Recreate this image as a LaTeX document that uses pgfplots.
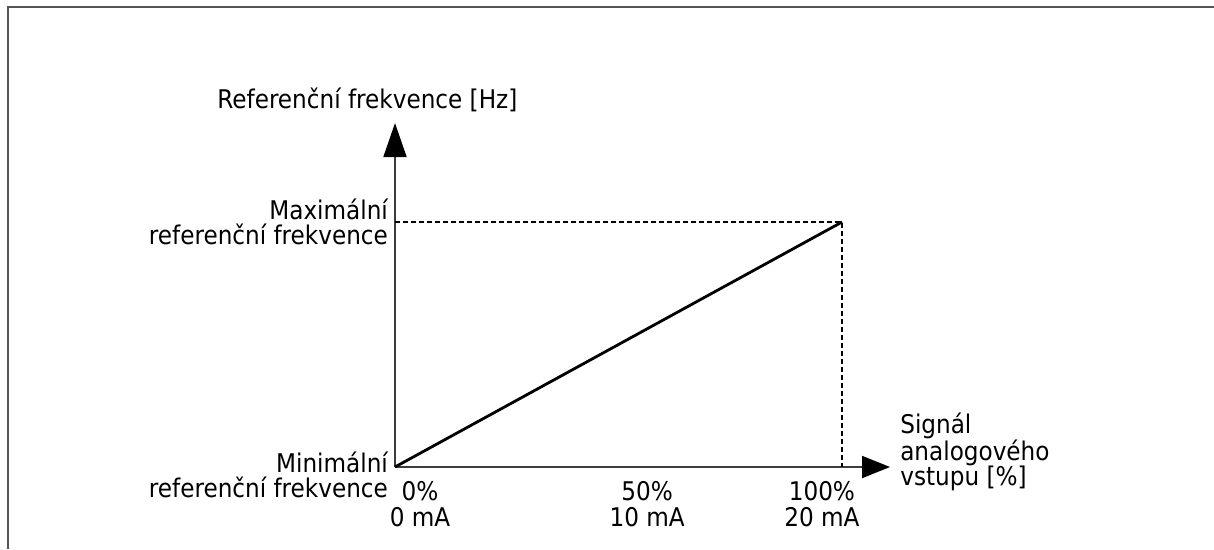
\documentclass[border=0pt]{standalone}
\usepackage{fontspec}
\setmainfont{DejaVu Sans Condensed}
\usepackage{pgfplots}
\pgfplotsset{compat=1.18}
\usetikzlibrary{arrows.meta}

\definecolor{framegray}{RGB}{85,85,85}
\definecolor{axisgray}{RGB}{60,60,60}

\begin{document}
\fontsize{18.3pt}{18pt}\selectfont
\begin{tikzpicture}
  % page = 1214 x 549 px, 1 px = 0.025 cm
  \useasboundingbox (0,0) rectangle (30.35,13.725);
  % partial frame (top and left edges)
  \draw[framegray, line width=1.4pt] (0.2,0) -- (0.2,13.55) -- (30.35,13.55);

  \begin{axis}[
    at={(9.875cm,2.05cm)}, anchor=origin,
    x=0.11175cm, y=6.125cm,
    xmin=0, xmax=110.74,
    ymin=0, ymax=1.404,
    axis lines=left,
    clip=false,
    x axis line style={axisgray, line width=1.3pt,
      -{Triangle[length=0.7cm, width=0.55cm, color=black]}},
    y axis line style={axisgray, line width=1.3pt,
      -{Triangle[length=0.85cm, width=0.575cm, color=black]}},
    major tick length=0pt,
    xtick={5.6,56.4,95.5},
    xticklabels={{0\%\\0 mA},{50\%\\10 mA},{100\%\\20 mA}},
    xticklabel style={align=center, anchor=north, inner sep=0pt, yshift=-0.36cm},
    ytick={1},
    yticklabels={{Maximální\\referenční frekvence}},
    yticklabel style={align=right, anchor=east, inner sep=0pt, xshift=-0.17cm},
    extra y ticks={0},
    extra y tick labels={{Minimální\\referenční frekvence}},
    extra y tick style={yticklabel style={yshift=-0.2cm}},
    every axis y label/.style={at={(axis description cs:0,1)}, anchor=base,
      xshift=-0.69cm, yshift=0.375cm, inner sep=0pt},
    ylabel={Referenční frekvence [Hz]},
    every axis x label/.style={at={(axis description cs:1,0)}, anchor=west,
      align=left, inner sep=0pt, xshift=0.25cm, yshift=0.375cm},
    xlabel={Signál\\analogového\\vstupu [\%]},
  ]
    \addplot[black, line width=1pt, dash pattern=on 0.12cm off 0.08cm]
      coordinates {(0,1) (100,1) (100,0)};
    \addplot[black, line width=2pt] coordinates {(0,0) (100,1)};
  \end{axis}
\end{tikzpicture}
\end{document}
